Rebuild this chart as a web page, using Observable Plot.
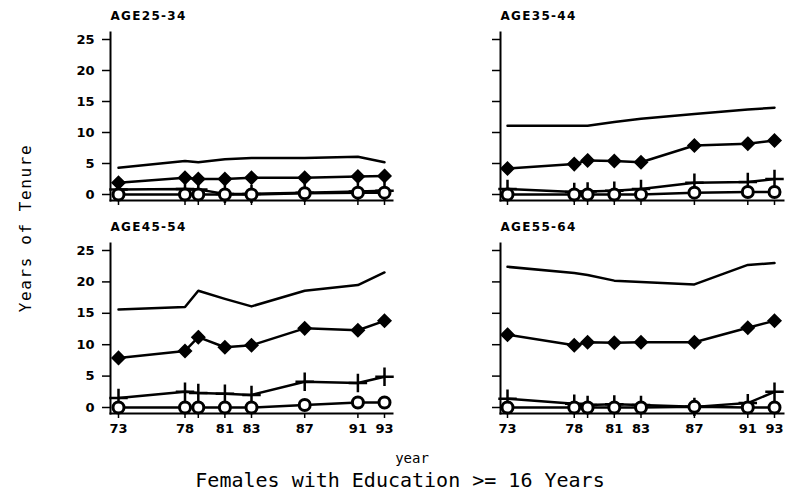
<!DOCTYPE html>
<html><head><meta charset="utf-8">
<script src="https://cdn.jsdelivr.net/npm/d3@7"></script>
<script src="https://cdn.jsdelivr.net/npm/@observablehq/plot@0.6"></script>
<style>
body{margin:0;background:#fff}
#chart{position:relative;width:789px;height:501px;overflow:hidden;background:#fff}
.panel{position:absolute}
.lbl{position:absolute;font-family:"DejaVu Sans Mono",monospace;color:#000;white-space:nowrap;line-height:1}
</style></head><body><div id="chart"></div>
<script>
// ---- data ----
const years = [73, 78, 79, 81, 83, 87, 91, 93];
const yearTickLabels = ["73", "78", "", "81", "83", "87", "91", "93"];
const tenureTicks = [0, 5, 10, 15, 20, 25];
const ageGroups = ["AGE25-34", "AGE35-44", "AGE45-54", "AGE55-64"];
const seriesNames = ["line", "diamond", "plus", "circle"];

const lineValues = [
  [4.3, 5.4, 5.2, 5.7, 5.9, 5.9, 6.1, 5.2],
  [11.1, 11.1, 11.1, 11.7, 12.2, 13.0, 13.7, 14.0],
  [15.6, 16.0, 18.6, 17.3, 16.1, 18.6, 19.5, 21.5],
  [22.4, 21.4, 21.1, 20.2, 20.0, 19.6, 22.7, 23.0]
];
const diamondValues = [
  [1.9, 2.7, 2.5, 2.5, 2.7, 2.7, 2.9, 3.0],
  [4.2, 4.9, 5.5, 5.4, 5.2, 7.9, 8.2, 8.7],
  [7.9, 9.0, 11.2, 9.6, 9.9, 12.6, 12.3, 13.8],
  [11.6, 9.9, 10.4, 10.3, 10.4, 10.4, 12.7, 13.8]
];
const plusValues = [
  [0.8, 0.9, 0.8, 0.1, 0.1, 0.3, 0.5, 0.6],
  [0.9, 0.4, 0.5, 0.6, 0.9, 1.9, 2.0, 2.5],
  [1.5, 2.5, 2.3, 2.2, 2.0, 4.1, 3.9, 4.9],
  [1.4, 0.6, 0.4, 0.5, 0.4, 0.1, 0.7, 2.5]
];
const circleValues = [
  [0.0, 0.0, 0.0, 0.0, 0.0, 0.2, 0.3, 0.3],
  [0.0, 0.0, 0.0, 0.0, 0.0, 0.3, 0.4, 0.4],
  [0.0, 0.0, 0.0, 0.0, 0.0, 0.4, 0.8, 0.8],
  [0.0, 0.0, 0.0, 0.0, 0.0, 0.1, 0.0, 0.0]
];

// ---- layout ----
const layout = [
  {left: 0,   top: 0,   width: 395, height: 210, mt: 32, mb: 10, mr: 3, il: 8, ir: 8, ylab: true,  xlab: false},
  {left: 390, top: 0,   width: 399, height: 210, mt: 32, mb: 10, mr: 6, il: 7, ir: 9, ylab: false, xlab: false},
  {left: 0,   top: 210, width: 395, height: 240, mt: 33, mb: 37, mr: 3, il: 8, ir: 8, ylab: true,  xlab: true},
  {left: 390, top: 210, width: 399, height: 240, mt: 33, mb: 37, mr: 6, il: 7, ir: 9, ylab: false, xlab: true}
];

const chart = document.getElementById("chart");
const allValues = [lineValues, diamondValues, plusValues, circleValues];

ageGroups.forEach((g, p) => {
  const L = layout[p];
  const rows = [];
  seriesNames.forEach((s, k) => {
    years.forEach((yr, i) => rows.push({series: s, year: yr, value: allValues[k][p][i]}));
  });
  const of = s => rows.filter(d => d.series === s);
  const svg = Plot.plot({
    width: L.width, height: L.height,
    marginLeft: 110, marginRight: L.mr, marginTop: L.mt, marginBottom: L.mb,
    style: {fontFamily: "DejaVu Sans", fontSize: "13px", fontWeight: "bold", color: "black", background: "transparent", overflow: "visible"},
    x: {domain: [73, 93], insetLeft: L.il, insetRight: L.ir},
    y: {domain: [0, 25], insetTop: 7, insetBottom: 6},
    marks: [
      Plot.frame({anchor: "left", strokeWidth: 2}),
      Plot.frame({anchor: "bottom", strokeWidth: 2}),
      Plot.axisY({ticks: tenureTicks, tickSize: 8, tickPadding: 8, strokeWidth: 1.5, label: null,
        tickFormat: L.ylab ? (d => String(d)) : (() => "")}),
      Plot.axisX({ticks: years, tickSize: 5, tickPadding: 5, strokeWidth: 1.5, label: null,
        tickFormat: L.xlab ? (d => yearTickLabels[years.indexOf(d)]) : (() => "")}),
      Plot.line(rows, {x: "year", y: "value", z: "series", stroke: "black", strokeWidth: 2.5}),
      Plot.dot(of("diamond"), {x: "year", y: "value", symbol: "diamond2", r: 5.5, fill: "black", stroke: "black", strokeWidth: 2}),
      Plot.dot(of("plus"), {x: "year", y: "value", symbol: "plus", r: 6, stroke: "black", strokeWidth: 2.5}),
      Plot.dot(of("circle"), {x: "year", y: "value", symbol: "circle", r: 5.5, fill: "white", stroke: "black", strokeWidth: 3}),
      Plot.text([g], {frameAnchor: "top-left", text: d => d, dy: -13, lineAnchor: "bottom", textAnchor: "start",
        fontSize: 12, fontWeight: "bold"})
    ]
  });
  d3.select(svg).selectAll("g[aria-label='text'] text").style("letter-spacing", "1.3px");
  const div = document.createElement("div");
  div.className = "panel";
  div.style.left = L.left + "px";
  div.style.top = L.top + "px";
  div.appendChild(svg);
  chart.appendChild(div);
});

function label(text, css) {
  const d = document.createElement("div");
  d.className = "lbl";
  d.textContent = text;
  Object.assign(d.style, css);
  chart.appendChild(d);
  return d;
}
label("Years of Tenure", {left: "26px", top: "228px", fontSize: "16px", letterSpacing: "1.6px",
  transform: "translate(-50%,-50%) rotate(-90deg)"});
label("year", {left: "412px", top: "451px", fontSize: "14px", transform: "translateX(-50%)"});
label("Females with Education >= 16 Years", {left: "400px", top: "470px", fontSize: "20px", transform: "translateX(-50%)"});
</script></body></html>
